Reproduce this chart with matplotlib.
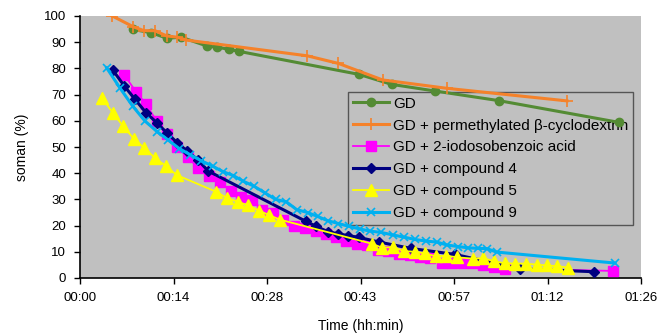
import numpy as np
import matplotlib
matplotlib.use('Agg')
import matplotlib.pyplot as plt
from matplotlib.ticker import FuncFormatter, MultipleLocator

plt.rcParams['font.family'] = ['Liberation Sans', 'DejaVu Sans']

# time in minutes, soman remaining in %
gd_t = [8.1, 11.0, 13.4, 15.6, 19.6, 21.1, 22.9, 24.5, 43.0, 48.0, 54.6, 64.5, 83.0]
gd_y = [94.9, 93.6, 91.5, 91.9, 88.5, 88.1, 87.3, 86.5, 77.7, 73.9, 71.4, 67.7, 59.4]

cd_t = [4.97, 8.2, 9.86, 11.55, 13.35, 15.0, 16.4, 35.0, 39.8, 46.6, 56.5, 75.0]
cd_y = [100.0, 95.9, 94.4, 94.4, 92.4, 91.9, 90.8, 84.8, 81.9, 75.6, 72.4, 67.6]

iba_t = [6.82, 8.62, 10.16, 11.81, 13.35, 14.94, 16.56, 18.22, 19.91, 21.56, 23.21, 24.80,
         26.44, 28.08, 29.77, 31.31, 32.96, 34.65, 36.30, 37.81, 39.35, 41.01, 42.62, 44.16,
         45.86, 47.48, 49.16, 50.78, 52.36, 53.95, 55.71, 57.29, 58.94, 60.57, 62.11, 63.76,
         65.38, 82.14]
iba_y = [77.5, 71.1, 66.4, 59.9, 55.0, 50.0, 46.3, 41.9, 38.9, 36.5, 33.3, 31.0,
         29.8, 26.0, 24.7, 22.1, 20.0, 19.0, 18.1, 16.9, 15.5, 14.1, 13.0, 12.6,
         10.7, 10.2, 9.3, 8.6, 8.1, 7.5, 5.6, 5.7, 5.7, 5.7, 5.0, 4.3,
         3.6, 2.7]

c4_t = [5.04, 6.82, 8.47, 10.16, 11.81, 13.45, 14.99, 16.53, 18.17, 19.76, 34.81, 36.39,
        38.12, 39.81, 41.28, 42.97, 46.10, 50.93, 57.75, 67.77, 79.12]
c4_y = [79.4, 73.3, 68.2, 63.1, 59.3, 55.2, 51.6, 48.4, 45.0, 40.8, 21.6, 19.7,
        17.7, 16.8, 16.2, 15.5, 13.7, 11.3, 9.0, 3.5, 2.4]

c5_t = [3.39, 5.04, 6.67, 8.27, 9.90, 11.55, 13.25, 14.89, 20.99, 22.64, 24.29, 25.92,
        27.57, 29.15, 30.76, 44.93, 46.51, 48.21, 49.85, 51.55, 53.13, 54.80, 56.42, 58.06,
        60.48, 62.11, 63.76, 65.46, 67.07, 68.69, 70.34, 71.97, 73.54, 75.16]
c5_y = [68.7, 63.1, 57.9, 53.2, 49.6, 45.8, 42.7, 39.3, 32.9, 30.5, 29.1, 27.7,
        25.7, 24.0, 22.3, 13.1, 11.6, 11.8, 10.3, 10.0, 9.4, 8.3, 8.5, 7.9,
        7.4, 7.6, 6.4, 5.6, 5.5, 5.5, 5.1, 4.8, 4.5, 4.0]

c9_t = [4.11, 6.16, 8.12, 10.01, 11.86, 13.55, 15.29, 16.94, 18.64, 20.41, 22.02, 23.61,
        25.10, 26.75, 28.42, 30.11, 31.77, 33.37, 35.04, 36.58, 38.12, 39.78, 41.43, 43.12,
        44.66, 46.36, 48.25, 49.90, 51.59, 53.29, 54.98, 56.52, 58.22, 59.80, 61.37, 62.68,
        64.15, 82.40]
c9_y = [80.2, 72.5, 65.6, 59.9, 55.9, 52.7, 49.4, 47.1, 44.8, 42.7, 40.6, 39.1,
        37.0, 35.1, 32.6, 30.0, 29.1, 26.1, 25.0, 23.5, 21.9, 20.8, 19.7, 18.7,
        17.9, 17.4, 16.4, 15.6, 14.7, 14.1, 13.7, 12.6, 12.0, 11.5, 11.3, 11.2,
        9.9, 5.7]

x_ticks = [0, 14.4, 28.8, 43.2, 57.6, 72.0, 86.4]


def hhmm(m, pos=None):
    m = int(m + 1e-6)
    return "%02d:%02d" % (m // 60, m % 60)


fig = plt.figure(figsize=(6.59, 3.34), dpi=100)
ax = fig.add_axes([80 / 659, 1 - 278 / 334, 561 / 659, 262 / 334])
ax.set_facecolor('#C0C0C0')

ax.plot(gd_t, gd_y, color='#548B34', lw=2.2, marker='o', ms=6, label='GD', zorder=3)
ax.plot(cd_t, cd_y, color='#F5822A', lw=2.2, marker='+', ms=9, mew=1.2,
        label='GD + permethylated β-cyclodextrin', zorder=3)
ax.plot(iba_t, iba_y, color='#FF00FF', lw=1.3, marker='s', ms=7,
        label='GD + 2-iodosobenzoic acid', zorder=3)
ax.plot(c4_t, c4_y, color='#000080', lw=2.2, marker='D', ms=5, label='GD + compound 4', zorder=3)
ax.plot(c5_t, c5_y, color='#FFFF00', lw=1.3, marker='^', ms=8, label='GD + compound 5', zorder=3)
ax.plot(c9_t, c9_y, color='#00B0F0', lw=2.2, marker='x', ms=6, mew=1.2,
        label='GD + compound 9', zorder=3)

ax.set_xlim(0, 86.4)
ax.set_ylim(0, 100)
ax.set_xticks(x_ticks)
ax.xaxis.set_major_formatter(FuncFormatter(hhmm))
ax.yaxis.set_major_locator(MultipleLocator(10))
ax.tick_params(axis='both', direction='out', length=4, width=1, labelsize=9.5, colors='black')
ax.tick_params(axis='x', pad=6)
ax.tick_params(axis='y', pad=6)
for side in ['top', 'right']:
    ax.spines[side].set_visible(False)
for side in ['left', 'bottom']:
    ax.spines[side].set_linewidth(1.2)

ax.set_xlabel('Time (hh:min)', fontsize=10, labelpad=11)
ax.set_ylabel('soman (%)', fontsize=10, labelpad=11)

leg = ax.legend(loc='upper left', bbox_to_anchor=((348 - 80) / 561, (278 - 92) / 262),
                fontsize=11, frameon=True, fancybox=False, framealpha=1,
                facecolor='#C0C0C0', edgecolor='#555555', handlelength=2.4,
                handletextpad=0.25, labelspacing=0.52, borderpad=0.3, borderaxespad=0)
leg.get_frame().set_linewidth(1.0)
leg.set_zorder(1.5)

fig.savefig('out.png', dpi=100)
